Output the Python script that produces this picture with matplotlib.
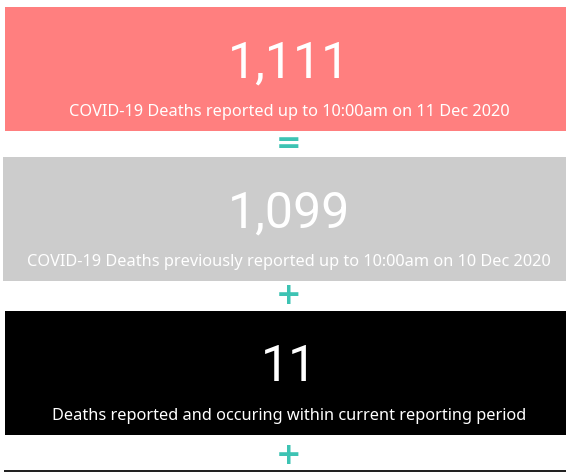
import matplotlib
matplotlib.use("Agg")
import matplotlib.pyplot as plt
from matplotlib.patches import Rectangle

# ---- data ----
values = [1111, 1099, 11]
labels = [
    "COVID-19 Deaths reported up to 10:00am on 11 Dec 2020",
    "COVID-19 Deaths previously reported up to 10:00am on 10 Dec 2020",
    "Deaths reported and occuring within current reporting period",
]
operators = ["=", "+", "+"]

# ---- style / layout ----
card_colors = ["#FF7F7F", "#CCCCCC", "#000000"]
card_tops = [7, 157, 311]
card_lefts = [5, 3, 5]
card_h = 124
op_y = [144, 296, 455]
teal = "#3DC3B3"
cx = 289

W, H = 566, 472
fig = plt.figure(figsize=(W / 100, H / 100), dpi=100)
ax = fig.add_axes([0, 0, 1, 1])
ax.set_xlim(0, W)
ax.set_ylim(H, 0)
ax.axis("off")

num_font = ["Roboto", "DejaVu Sans"]
sub_font = ["Noto Sans", "DejaVu Sans"]

for i, v in enumerate(values):
    top = card_tops[i]
    ax.add_patch(Rectangle((card_lefts[i], top), W - card_lefts[i] + 10, card_h,
                           facecolor=card_colors[i], edgecolor="none"))
    ax.text(cx, top + 56, f"{v:,}", color="white", ha="center", va="center",
            fontsize=36, family=num_font)
    ax.text(cx, top + 105, labels[i], color="white", ha="center", va="center",
            fontsize=11.75, family=sub_font)
    ax.text(cx, op_y[i], operators[i], color=teal, ha="center", va="center",
            fontsize=22, fontweight="bold", family=["DejaVu Sans"])

# bottom rule
ax.add_patch(Rectangle((4, 470), W, 3, facecolor="#222222", edgecolor="none"))

fig.savefig("out.png", dpi=100, facecolor="white")
